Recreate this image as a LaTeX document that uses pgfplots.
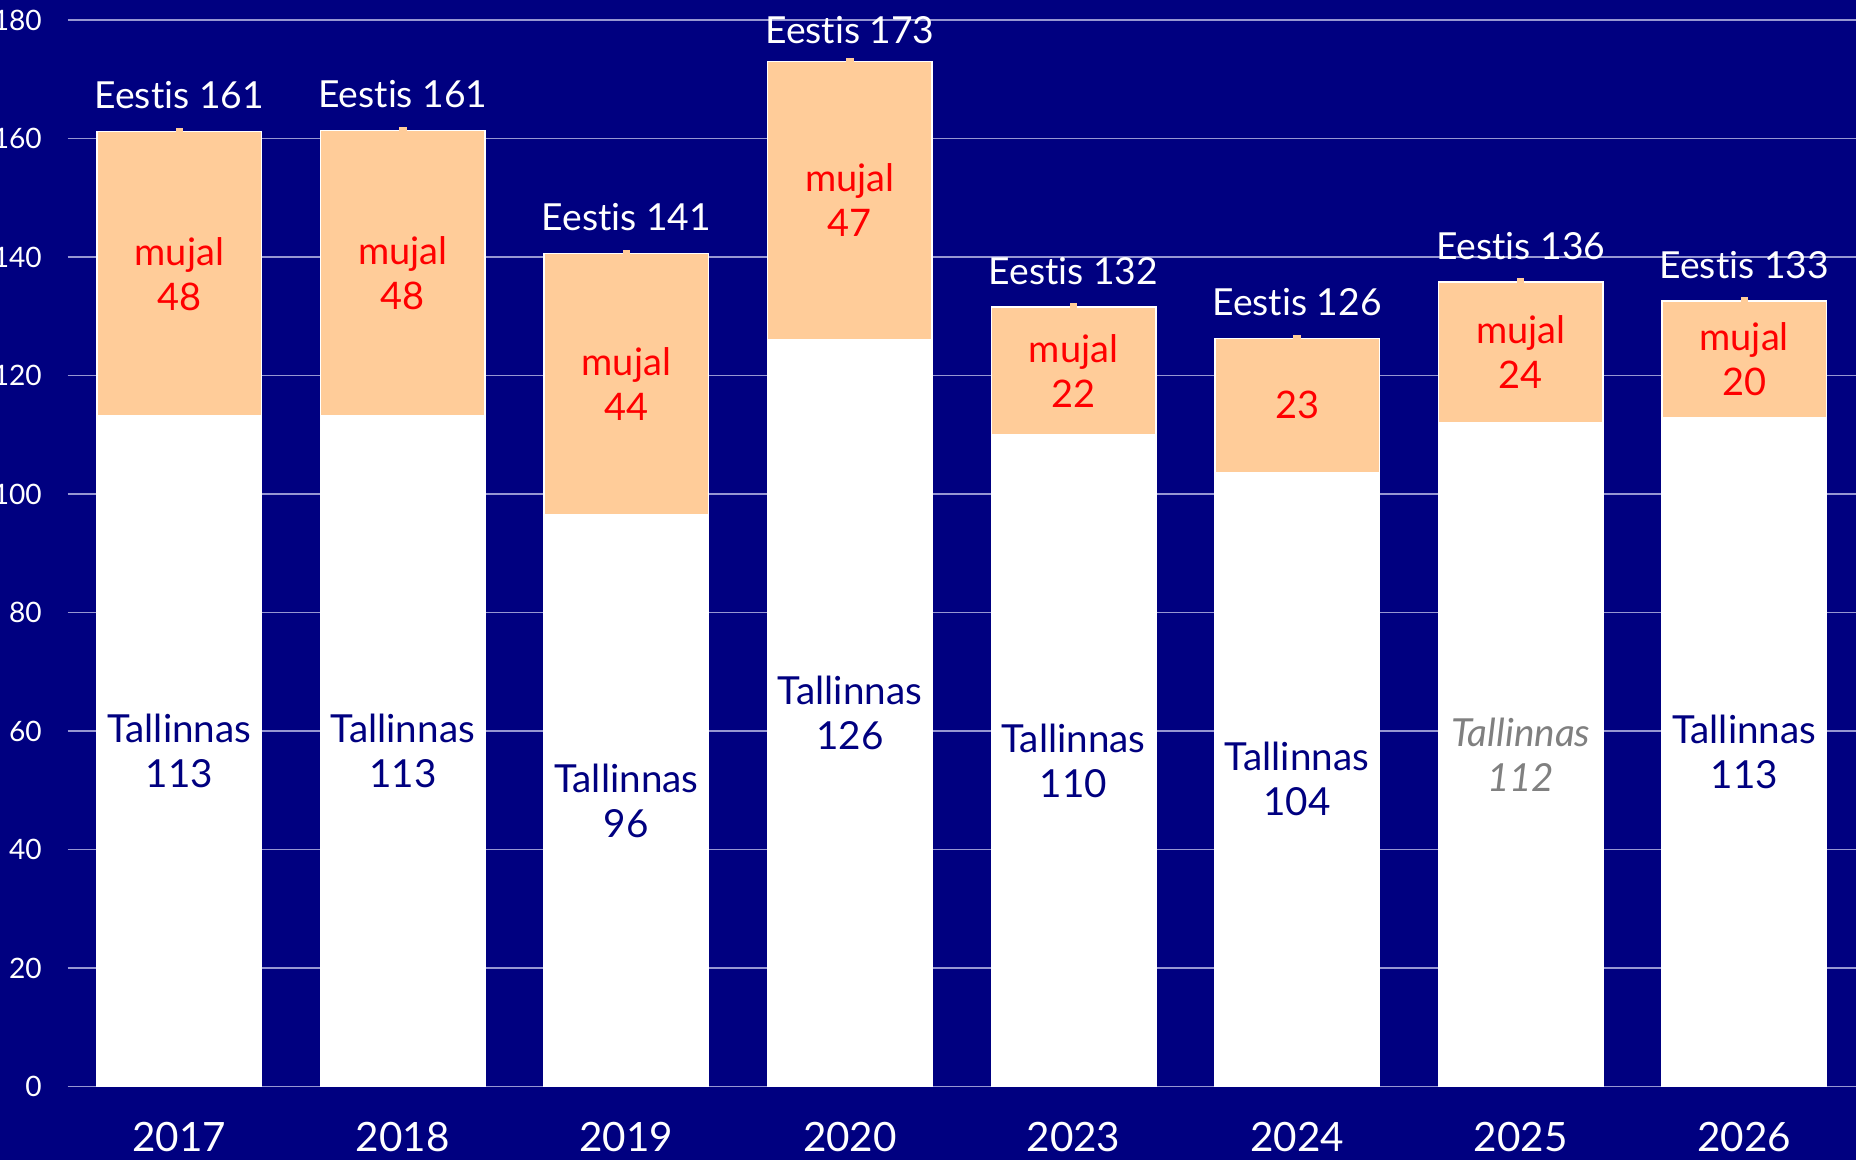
\documentclass[border=0pt]{standalone}
\usepackage{pgfplots}
\pgfplotsset{compat=1.18}
\usepackage{fontspec}
\setmainfont{Lato}[Ligatures=NoCommon]
\definecolor{navy}{RGB}{0,0,128}
\definecolor{peach}{RGB}{255,204,153}
\definecolor{gridc}{RGB}{150,150,210}
\definecolor{lred}{RGB}{255,0,0}
\definecolor{lgray}{RGB}{128,128,128}
\begin{document}
\begin{tikzpicture}
\fill[navy] (0,0) rectangle (185.6mm,116mm);
\begin{axis}[
 at={(6.75mm,7.34mm)}, anchor=south west, scale only axis,
 width=178.85mm, height=106.65mm,
 xmin=-0.5, xmax=7.5, ymin=0, ymax=180,
 xtick={0,...,7}, xticklabels={2017,2018,2019,2020,2023,2024,2025,2026},
 ytick={0,20,...,180},
 ymajorgrids, grid style={gridc, line width=0.15mm},
 axis line style={draw=none},
 major tick length=0pt,
 xticklabel style={font=\fontsize{11.5}{12}\selectfont, text=white, anchor=center, inner sep=0pt, yshift=-5mm},
 yticklabel style={font=\fontsize{8}{9}\selectfont, text=white, anchor=east, inner sep=0pt, xshift=-2.5mm},
 /pgf/number format/assume math mode=true,
 clip=false,
]
% total bars (peach)
\addplot[ybar, bar width=16.45mm, bar shift=0pt, fill=peach, draw=white, line width=0.15mm]
coordinates {(0,161.2) (1,161.4) (2,140.6) (3,173.0) (4,131.6) (5,126.3) (6,135.8) (7,132.6)};
% Tallinnas bars (white)
\addplot[ybar, bar width=16.45mm, bar shift=0pt, fill=white, draw=white, line width=0.1mm]
coordinates {(0,113.2) (1,113.2) (2,96.5) (3,126.1) (4,110.1) (5,103.7) (6,112.1) (7,112.9)};
% small marks at top
\addplot[only marks, mark=square*, mark size=0.3mm, color=peach, mark options={fill=peach, draw=peach}]
coordinates {(0,161.2) (1,161.4) (2,140.6) (3,173.0) (4,131.6) (5,126.3) (6,135.8) (7,132.6)};
% Eestis labels
\addplot[draw=none, mark=none, nodes near coords, point meta=explicit symbolic,
 every node near coord/.append style={anchor=center, text=white, font=\fontsize{10.6}{12.8}\selectfont, inner sep=0pt, yshift=3.6mm}]
coordinates {(0,161.2)[Eestis 161] (1,161.4)[Eestis 161] (2,140.6)[Eestis 141] (4,131.6)[Eestis 132] (5,126.3)[Eestis 126] (6,135.8)[Eestis 136] (7,132.6)[Eestis 133]};
\addplot[draw=none, mark=none, nodes near coords, point meta=explicit symbolic,
 every node near coord/.append style={anchor=center, text=white, font=\fontsize{10.6}{12.8}\selectfont, inner sep=0pt, yshift=3.2mm}]
coordinates {(3,173.0)[Eestis 173]};
% mujal labels
\addplot[draw=none, mark=none, nodes near coords, point meta=explicit symbolic,
 every node near coord/.append style={anchor=center, align=center, text=lred, font=\fontsize{10.8}{12.8}\selectfont, inner sep=0pt}]
coordinates {(0,137.2)[{mujal\\48}] (1,137.3)[{mujal\\48}] (2,118.55)[{mujal\\44}] (3,149.55)[{mujal\\47}] (4,120.85)[{mujal\\22}] (5,115.0)[23] (6,123.95)[{mujal\\24}] (7,122.75)[{mujal\\20}]};
% Tallinnas labels
\addplot[draw=none, mark=none, nodes near coords, point meta=explicit symbolic,
 every node near coord/.append style={anchor=center, align=center, text=navy, font=\fontsize{11}{12.8}\selectfont, inner sep=0pt}]
coordinates {(0,56.6)[{Tallinnas\\113}] (1,56.6)[{Tallinnas\\113}] (2,48.25)[{Tallinnas\\96}] (3,63.05)[{Tallinnas\\126}] (4,55.05)[{Tallinnas\\110}] (5,51.85)[{Tallinnas\\104}] (7,56.45)[{Tallinnas\\113}]};
\addplot[draw=none, mark=none, nodes near coords, point meta=explicit symbolic,
 every node near coord/.append style={anchor=center, align=center, text=lgray, font=\fontsize{11}{12.8}\selectfont\itshape, inner sep=0pt}]
coordinates {(6,56.05)[{Tallinnas\\112}]};
\end{axis}
\pgfresetboundingbox
\useasboundingbox (0,0) rectangle (185.6mm,116mm);
\end{tikzpicture}
\end{document}
